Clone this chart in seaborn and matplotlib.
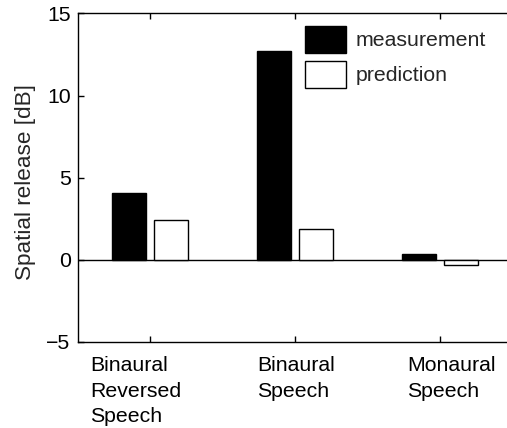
import matplotlib
matplotlib.use("Agg")
import matplotlib.pyplot as plt
import matplotlib.transforms as mtransforms
import seaborn as sns
import pandas as pd

categories = ["Binaural\nReversed\nSpeech", "Binaural\nSpeech", "Monaural\nSpeech"]
measurement = [4.04, 12.71, 0.34]
prediction = [2.41, 1.85, -0.33]
series_names = ["measurement", "prediction"]
yticks = [-5, 0, 5, 10, 15]

df = pd.DataFrame({
    "category": categories * 2,
    "value": measurement + prediction,
    "series": [series_names[0]] * 3 + [series_names[1]] * 3,
})

FS = 15.3

sns.set_theme(style="white")
plt.rcParams["font.family"] = ["Liberation Sans", "DejaVu Sans"]
plt.rcParams["font.size"] = FS

fig = plt.figure(figsize=(5.07, 4.28), dpi=100)
ax = fig.add_axes([0.1529, 0.2017, 0.858, 0.7668])

sns.barplot(data=df, x="category", y="value", hue="series",
            palette=["black", "white"], width=0.572, gap=0.18,
            edgecolor="black", linewidth=1.0, saturation=1, ax=ax)

ax.axhline(0, color="black", lw=1.0, zorder=0.5)
ax.set_xlim(-0.5, 2.5)
ax.set_ylim(-5, 15)
ax.set_yticks(yticks)
ax.set_yticklabels(["\u22125", "0", "5", "10", "15"])
ax.set_xlabel("")
ax.set_ylabel("Spatial release [dB]", fontsize=16.2)
ax.yaxis.set_label_coords(-0.095, 0.485)

for s in ax.spines.values():
    s.set_color("black")
    s.set_linewidth(1.0)

ax.tick_params(axis="both", direction="in", length=4, width=1, colors="black",
               labelsize=FS, top=True, right=True, left=True, bottom=True)
ax.tick_params(axis="y", pad=5)
ax.tick_params(axis="x", pad=10.5)

offsets_px = [-60, -38, -33]
for lab, off in zip(ax.get_xticklabels(), offsets_px):
    lab.set_horizontalalignment("left")
    lab.set_multialignment("left")
    lab.set_linespacing(1.44)
    lab.set_transform(lab.get_transform() + mtransforms.ScaledTranslation(off / 100, 0, fig.dpi_scale_trans))

sns.move_legend(ax, loc="upper left", bbox_to_anchor=(0.523, 0.963), frameon=False,
                title=None, fontsize=FS, handlelength=1.93, handleheight=1.6,
                handletextpad=0.45, labelspacing=0.37, borderpad=0, borderaxespad=0)

fig.savefig("out.png", dpi=100)
